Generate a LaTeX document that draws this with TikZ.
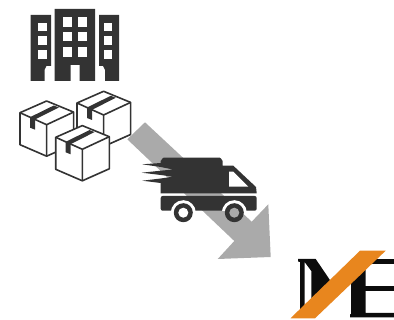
\documentclass[tikz,border=0pt]{standalone}
\usepackage{xcolor}
\usepackage{tikz}
\definecolor{cDark}{RGB}{51,51,51}
\definecolor{cArrow}{RGB}{170,170,170}
\definecolor{cBand}{RGB}{232,134,30}
\definecolor{cInk}{RGB}{12,12,12}
\tikzset{
  dark/.style={fill=cDark, draw=none},
  win/.style={fill=white, draw=none},
  flow/.style={fill=cArrow, draw=none},
  ink/.style={fill=cInk, draw=none},
  parcel/.pic={
    \draw[draw=cDark, fill=white, line width=1.6pt, line join=round]
      (0,0) -- (26.6,-11.7) -- (53.6,-0.6) -- (53.6,31.5) -- (26.6,43.5) -- (0,32) -- cycle;
    \draw[draw=cDark, line width=1.6pt, line join=round]
      (0,0) -- (26.6,12) -- (53.6,-0.6) (26.6,12) -- (26.6,43.5);
    \fill[dark] (10,4.5) -- (33.8,-7.2) -- (38.8,-5.2) -- (15,6.8) -- (15,17) -- (10,15) -- cycle;
  },
}
\begin{document}
\begin{tikzpicture}[x=1pt,y=-1pt]
  \useasboundingbox (0,0) rectangle (394,320);

  % ---- building ----
  \fill[dark] (30.7,15) -- (51,15) -- (51,66) -- (46.5,66) -- (44.5,70) -- (44.5,81) -- (30.7,81) -- cycle;
  \fill[dark] (54.5,9) -- (95,9) -- (95,81) -- (79.5,81) -- (79.5,65) -- (70.5,65) -- (70.5,81) -- (54.5,81) -- cycle;
  \fill[dark] (99,15) -- (119,15) -- (119,81) -- (105,81) -- (105,70) -- (103,66) -- (99,66) -- cycle;
  \foreach \y in {17.5,32,47.5} {
    \fill[win] (62.5,\y) rectangle ++(9.5,9.5);
    \fill[win] (77.5,\y) rectangle ++(9.5,9.5);
  }
  \foreach \y in {23,36.5,50.5} {
    \fill[win] (37.5,\y) rectangle ++(9,8.5);
    \fill[win] (103.5,\y) rectangle ++(8.3,8.5);
  }

  % ---- parcels ----
  \pic at (77,103) {parcel};
  \pic at (20,112.7) {parcel};

  % ---- big arrow ----
  \fill[flow] (145,122.3) -- (251.7,221.7) -- (268.3,204.3) -- (270.7,257) -- (217.7,259) -- (234.3,241) -- (127.3,139.3) -- cycle;

  \pic at (55.7,137.3) {parcel};

  % ---- truck ----
  \fill[dark] (163.7,157.7) -- (219.7,157.7) to[out=0,in=-90] (222.7,160.7) -- (222.7,165.7) -- (233.3,165.7)
    -- (256,187) -- (256.7,193.3) -- (160.7,193.3) -- (160.7,183) -- (142.3,180.7) -- (160.7,178.5) -- (173,176.7)
    -- (160.7,175) -- (141.7,172.7) -- (160.7,170.7) -- (173,169.5) -- (160.7,167) -- (142.3,164.3) -- (160.7,163)
    -- (160.7,160.7) to[out=-90,in=180] cycle;
  \fill[win] (229,171.7) -- (233.3,171.7) -- (248.3,186.7) -- (229,186.7) -- cycle;
  \fill[dark, rounded corners=2pt] (160.7,196) -- (256.7,196) -- (256.7,210.7) -- (160.7,210.7) -- cycle;
  \foreach \x/\c in {183.3/white,234.3/cArrow} {
    \begin{scope}
      \clip (\x-13,196) rectangle (\x+13,210.7);
      \fill[white] (\x,212.7) circle (12.5);
    \end{scope}
    \fill[dark] (\x,212.7) circle (9.5);
    \fill[\c] (\x,212.7) circle (5);
  }

  % ---- logo ----
  \fill[ink] (298,259) -- (315.7,259) -- (336,289) -- (311.3,300) -- (311.3,271) -- (305,262.5) -- (304.5,262.5)
    -- (304.5,312) -- (300,312) -- (300,262) -- (298,261.5) -- cycle;
  \fill[ink] (355,265) -- (365.7,265) -- (365.7,313) -- (394,313) -- (394,317.3) -- (350,317.3) -- (350,314.5)
    -- (351,314) -- (351,270) -- cycle;
  \fill[ink] (368,259) -- (394,259) -- (394,263.7) -- (368,263.7) -- cycle;
  \fill[ink] (360,286.3) -- (394,286.3) -- (394,291.3) -- (360,291.3) -- cycle;
  \fill[cBand] (360,250.7) -- (385.7,250.7) -- (315,318.3) -- (290.5,318.3) -- cycle;
\end{tikzpicture}
\end{document}
